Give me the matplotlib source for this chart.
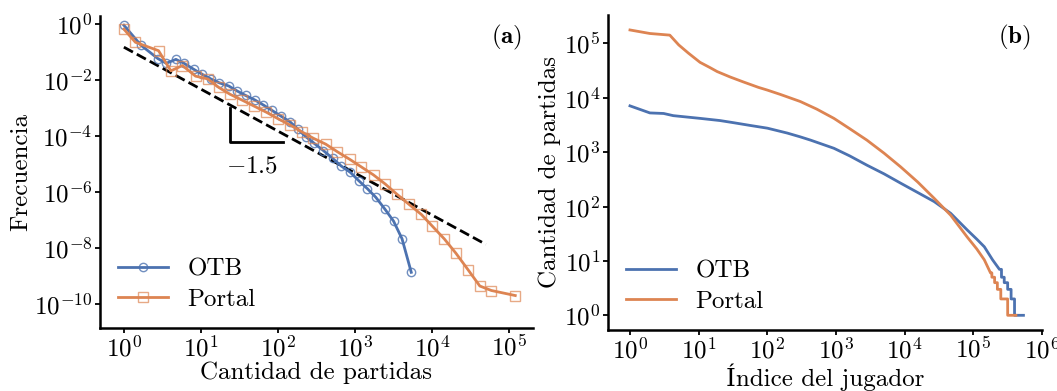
import numpy as np
import matplotlib
matplotlib.use("Agg")
from matplotlib import pyplot as plt
from matplotlib.ticker import LogLocator, NullLocator

plt.rcParams['font.family'] = ['cmr10', 'DejaVu Serif']
plt.rcParams['mathtext.fontset'] = 'cm'
plt.rcParams['axes.formatter.use_mathtext'] = True
plt.rcParams['font.size'] = 18

BLUE = '#4C72B0'
ORANGE = '#DD8452'

# panel (a): log-binned frequency, values as log10 exponents
otb_x_exp = [0, 0.22, 0.44, 0.55, 0.675, 0.78, 0.91, 1.02, 1.13, 1.24, 1.36, 1.47,
             1.58, 1.70, 1.81, 1.92, 2.04, 2.16, 2.26, 2.36, 2.47, 2.59, 2.71, 2.82,
             2.94, 3.05, 3.16, 3.27, 3.39, 3.50, 3.61, 3.73]
otb_y_exp = [-0.04, -0.75, -1.23, -1.40, -1.26, -1.40, -1.62, -1.80, -1.96, -2.10, -2.21, -2.39,
             -2.55, -2.71, -2.89, -3.08, -3.29, -3.50, -3.76, -4.02, -4.26, -4.52, -4.80, -5.07,
             -5.30, -5.60, -5.88, -6.19, -6.62, -7.04, -7.67, -8.87]
portal_x_exp = [0, 0.15, 0.45, 0.61, 0.76, 0.93, 1.09, 1.23, 1.38, 1.53, 1.69, 1.85,
                2.00, 2.16, 2.31, 2.46, 2.62, 2.77, 2.93, 3.08, 3.24, 3.39, 3.54, 3.70,
                3.86, 4.00, 4.16, 4.31, 4.47, 4.62, 4.77, 5.08]
portal_y_exp = [-0.18, -0.65, -0.95, -1.67, -1.48, -1.86, -1.96, -2.26, -2.51, -2.71, -2.93, -3.15,
                -3.38, -3.61, -3.85, -4.08, -4.29, -4.56, -4.83, -5.10, -5.39, -5.71, -6.07, -6.44,
                -6.80, -7.21, -7.68, -8.19, -8.79, -9.36, -9.52, -9.70]
fit_slope = -1.5
fit_amp = 0.15
fit_range = [1, 5e4]

# panel (b): rank plots, log10 exponents
otb_rank_exp = [0, 0.29, 0.49, 0.63, 1.02, 1.31, 1.51, 1.75, 2.00, 2.29, 2.48, 2.63, 2.97,
                3.20, 3.45, 3.70, 3.94, 4.20, 4.43, 4.67, 4.91, 5.05, 5.16, 5.28, 5.38,
                5.41, 5.41, 5.45, 5.45, 5.50, 5.50, 5.55, 5.55, 5.60, 5.60, 5.73]
otb_games_exp = [3.85, 3.72, 3.71, 3.67, 3.62, 3.58, 3.54, 3.49, 3.44, 3.35, 3.28, 3.22, 3.07,
                 2.93, 2.76, 2.60, 2.43, 2.25, 2.09, 1.875, 1.57, 1.40, 1.26, 1.02, 0.845,
                 0.845, 0.70, 0.70, 0.60, 0.60, 0.477, 0.477, 0.301, 0.301, 0, 0]
portal_rank_exp = [0, 0.29, 0.58, 0.71, 0.85, 1.02, 1.17, 1.27, 1.46, 1.65, 1.87, 2.00, 2.19,
                   2.48, 2.72, 2.97, 3.20, 3.45, 3.70, 3.94, 4.19, 4.43, 4.67, 4.91, 5.05,
                   5.16, 5.25, 5.27, 5.27, 5.31, 5.31, 5.35, 5.35, 5.40, 5.40, 5.50, 5.50, 5.62]
portal_games_exp = [5.245, 5.18, 5.15, 4.97, 4.82, 4.65, 4.55, 4.48, 4.38, 4.29, 4.19, 4.14, 4.06,
                    3.93, 3.79, 3.62, 3.43, 3.22, 2.98, 2.73, 2.45, 2.15, 1.84, 1.44, 1.22,
                    1.02, 0.78, 0.78, 0.70, 0.70, 0.60, 0.60, 0.477, 0.477, 0.301, 0.301, 0, 0]

p10 = lambda v: np.power(10.0, v)

fig = plt.figure(figsize=(10.57, 3.91), dpi=100)
ax1 = fig.add_axes([100 / 1057, 1 - 328 / 391, 433 / 1057, 312 / 391])
ax2 = fig.add_axes([608 / 1057, 1 - 330 / 391, 434 / 1057, 315 / 391])

ax1.plot(p10(otb_x_exp), p10(otb_y_exp), color=BLUE, lw=2, marker='o', ms=6,
         mfc='none', mec=(0.30, 0.45, 0.69, 0.8), mew=1, label='OTB')
ax1.plot(p10(portal_x_exp), p10(portal_y_exp), color=ORANGE, lw=2, marker='s', ms=6.5,
         mfc='none', mec=(0.87, 0.52, 0.32, 0.7), mew=1, label='Portal')
fx = np.array(fit_range)
ax1.plot(fx, fit_amp * fx ** fit_slope, color='black', ls='--', lw=2, zorder=1)
# slope triangle
ax1.plot([24, 24, 115], [1e-3, 6.2e-5, 6.2e-5], color='black', lw=2)
ax1.text(46, 8.5e-6, r'$-1.5$', ha='center', va='center', fontsize=18)
ax1.text(0.975, 0.93, r'$(\mathbf{a})$', transform=ax1.transAxes, ha='right', va='center',
         fontsize=18)

ax1.set_xscale('log')
ax1.set_yscale('log')
ax1.set_xlim(p10(-0.31), p10(5.31))
ax1.set_ylim(p10(-10.86), p10(0.29))
ax1.xaxis.set_major_locator(LogLocator(base=10, numticks=20))
ax1.yaxis.set_major_locator(LogLocator(base=100, numticks=20))
ax1.set_xlabel('Cantidad de partidas', labelpad=0)
ax1.set_ylabel('Frecuencia', labelpad=1)
ax1.legend(loc='lower left', frameon=False, fontsize=18, handlelength=2.0,
           borderaxespad=0.3, labelspacing=0.3)

ax2.plot(p10(otb_rank_exp), p10(otb_games_exp), color=BLUE, lw=2, label='OTB')
ax2.plot(p10(portal_rank_exp), p10(portal_games_exp), color=ORANGE, lw=2, label='Portal')
ax2.text(0.975, 0.93, r'$(\mathbf{b})$', transform=ax2.transAxes, ha='right', va='center',
         fontsize=18)
ax2.set_xscale('log')
ax2.set_yscale('log')
ax2.set_xlim(p10(-0.32), p10(6.0))
ax2.set_ylim(p10(-0.27), p10(5.52))
ax2.xaxis.set_major_locator(LogLocator(base=10, numticks=20))
ax2.yaxis.set_major_locator(LogLocator(base=10, numticks=20))
ax2.set_xlabel('Índice del jugador', labelpad=0)
ax2.set_ylabel('Cantidad de partidas', labelpad=2)
ax2.legend(loc='lower left', frameon=False, fontsize=18, handlelength=2.0,
           borderaxespad=0.3, labelspacing=0.3)

for ax in (ax1, ax2):
    ax.xaxis.set_minor_locator(NullLocator())
    ax.yaxis.set_minor_locator(NullLocator())
    for s in ('top', 'right'):
        ax.spines[s].set_visible(False)
    for s in ('left', 'bottom'):
        ax.spines[s].set_linewidth(1.8)
    ax.tick_params(which='major', length=3.5, width=1.3, labelsize=18, pad=2)

fig.savefig('out.png', dpi=100)
